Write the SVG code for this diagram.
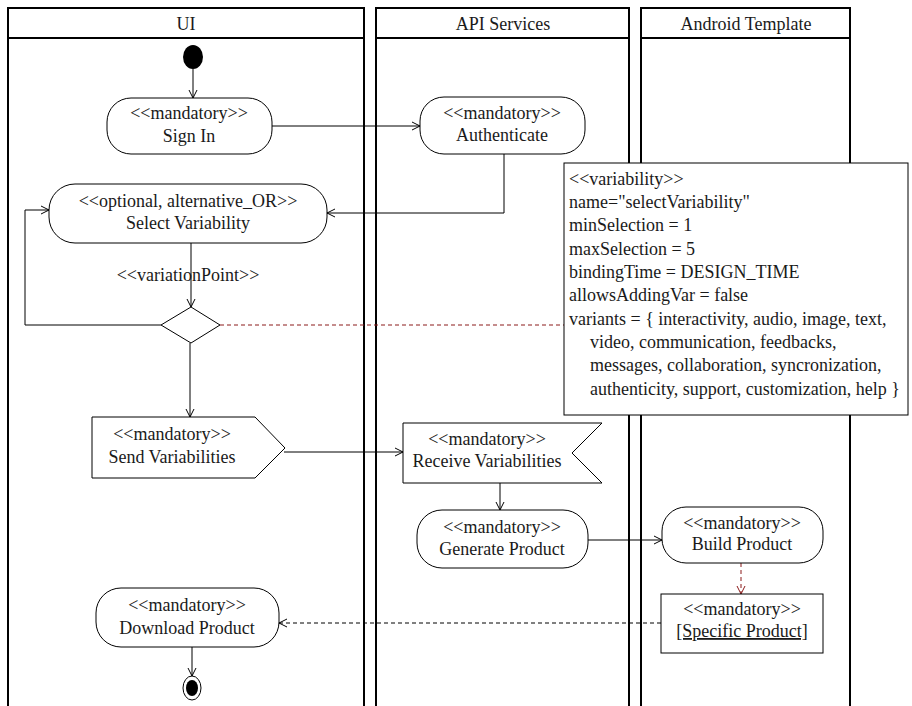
<svg xmlns="http://www.w3.org/2000/svg" width="912" height="706" viewBox="0 0 912 706">
<style>
text{font-family:"Liberation Serif","Times New Roman",serif;font-size:18px;fill:#1a1a1a}
.c{text-anchor:middle}
.lane{fill:none;stroke:#000;stroke-width:2}
.n{fill:#fff;stroke:#000;stroke-width:1}
.e{fill:none;stroke:#000;stroke-width:1}
.d{fill:none;stroke:#000;stroke-width:1;stroke-dasharray:4 3}
.r{fill:none;stroke:#8b1a1a;stroke-width:1;stroke-dasharray:4 3}
</style>
<defs>
<marker id="a" markerWidth="10" markerHeight="10" refX="9" refY="5" orient="auto" markerUnits="userSpaceOnUse"><path d="M1,1 L9,5 L1,9" fill="none" stroke="#000"/></marker>
<marker id="ar" markerWidth="10" markerHeight="10" refX="9" refY="5" orient="auto" markerUnits="userSpaceOnUse"><path d="M1,1 L9,5 L1,9" fill="none" stroke="#8b1a1a"/></marker>
</defs>
<rect width="912" height="706" fill="#fff"/>
<g id="lane-ui"><rect class="lane" x="8" y="8" width="356" height="720"/><line class="lane" x1="8" y1="38" x2="364" y2="38"/><text class="c" x="186" y="30">UI</text></g>
<g id="lane-api"><rect class="lane" x="376" y="8" width="253" height="720"/><line class="lane" x1="376" y1="38" x2="629" y2="38"/><text class="c" x="503" y="30">API Services</text></g>
<g id="lane-android"><rect class="lane" x="641" y="8" width="209" height="720"/><line class="lane" x1="641" y1="38" x2="850" y2="38"/><text class="c" x="746" y="30">Android Template</text></g>
<g id="connectors">
<path class="e" d="M193,69 V98" marker-end="url(#a)"/>
<path class="e" d="M272,126 H420" marker-end="url(#a)"/>
<path class="e" d="M504,154 V213 H327" marker-end="url(#a)"/>
<path class="e" d="M191,243 V307" marker-end="url(#a)"/>
<path class="e" d="M161,325 H25 V210 H49" marker-end="url(#a)"/>
<path class="e" d="M190,343 V417" marker-end="url(#a)"/>
<path class="e" d="M284,452 H403" marker-end="url(#a)"/>
<path class="e" d="M500,483 V510" marker-end="url(#a)"/>
<path class="e" d="M588,540 H662" marker-end="url(#a)"/>
<path class="r" d="M741,563 V594" marker-end="url(#ar)"/>
<path class="d" d="M661,623 H279" marker-end="url(#a)"/>
<path class="e" d="M192,647 V676" marker-end="url(#a)"/>
<path class="r" d="M220,325 H564"/>
<text class="c" x="188" y="281">&lt;&lt;variationPoint&gt;&gt;</text>
</g>
<g id="initial"><ellipse cx="193" cy="57" rx="10" ry="12" fill="#000"/></g>
<g id="sign-in"><rect class="n" x="107" y="98" width="165" height="56" rx="24"/><text class="c" x="189" y="119">&lt;&lt;mandatory&gt;&gt;</text><text class="c" x="189" y="142">Sign In</text></g>
<g id="authenticate"><rect class="n" x="420" y="97" width="165" height="57" rx="24"/><text class="c" x="502" y="119">&lt;&lt;mandatory&gt;&gt;</text><text class="c" x="502" y="141">Authenticate</text></g>
<g id="select-variability"><rect class="n" x="49" y="184" width="278" height="59" rx="26"/><text class="c" x="188" y="207">&lt;&lt;optional, alternative_OR&gt;&gt;</text><text class="c" x="188" y="229">Select Variability</text></g>
<g id="decision"><polygon class="n" points="191,307 220,325 191,343 161,325"/></g>
<g id="send-variabilities"><polygon class="n" points="92,417 255,417 285,448 255,478 92,478"/><text class="c" x="172" y="440">&lt;&lt;mandatory&gt;&gt;</text><text class="c" x="172" y="463">Send Variabilities</text></g>
<g id="receive-variabilities"><polygon class="n" points="403,423 602,423 572,453 602,483 403,483"/><text class="c" x="487" y="445">&lt;&lt;mandatory&gt;&gt;</text><text class="c" x="487" y="467">Receive Variabilities</text></g>
<g id="generate-product"><rect class="n" x="417" y="510" width="171" height="58" rx="25"/><text class="c" x="502" y="533">&lt;&lt;mandatory&gt;&gt;</text><text class="c" x="502" y="555">Generate Product</text></g>
<g id="build-product"><rect class="n" x="662" y="507" width="161" height="56" rx="24"/><text class="c" x="742" y="529">&lt;&lt;mandatory&gt;&gt;</text><text class="c" x="742" y="550">Build Product</text></g>
<g id="specific-product"><rect class="n" x="661" y="594" width="162" height="59"/><text class="c" x="742" y="615">&lt;&lt;mandatory&gt;&gt;</text><text class="c" x="742" y="637" text-decoration="underline">[Specific Product]</text></g>
<g id="download-product"><rect class="n" x="96" y="588" width="183" height="59" rx="25"/><text class="c" x="187" y="611">&lt;&lt;mandatory&gt;&gt;</text><text class="c" x="187" y="634">Download Product</text></g>
<g id="final"><ellipse cx="192" cy="688" rx="9" ry="12" fill="#fff" stroke="#000"/><ellipse cx="192" cy="688" rx="6" ry="8" fill="#000"/></g>
<g id="note"><rect class="n" x="564" y="163" width="344" height="252"/>
<text x="569" y="185">&lt;&lt;variability&gt;&gt;</text>
<text x="569" y="208">name="selectVariability"</text>
<text x="569" y="231">minSelection = 1</text>
<text x="569" y="255">maxSelection = 5</text>
<text x="569" y="278">bindingTime = DESIGN_TIME</text>
<text x="569" y="301">allowsAddingVar = false</text>
<text x="569" y="325">variants = { interactivity, audio, image, text,</text>
<text x="590" y="348">video, communication, feedbacks,</text>
<text x="590" y="371">messages, collaboration, syncronization,</text>
<text x="590" y="395">authenticity, support, customization, help }</text>
</g>
</svg>
